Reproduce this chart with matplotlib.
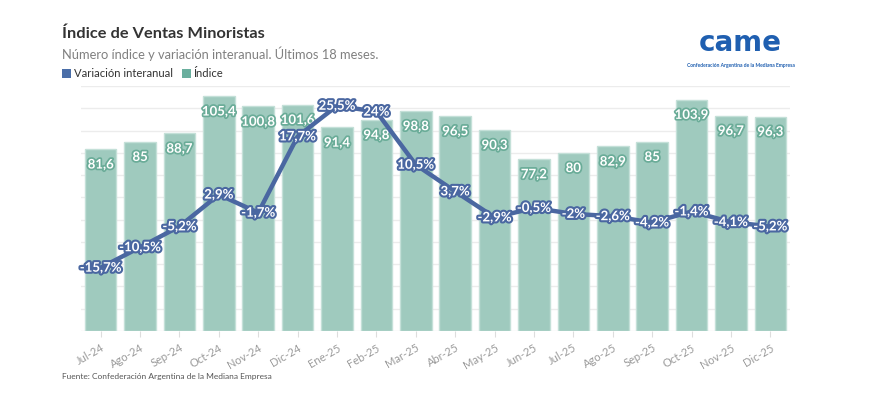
import matplotlib
matplotlib.use("Agg")
import matplotlib.pyplot as plt
import matplotlib.patheffects as pe
import numpy as np

months = ["Jul-24", "Ago-24", "Sep-24", "Oct-24", "Nov-24", "Dic-24", "Ene-25", "Feb-25",
          "Mar-25", "Abr-25", "May-25", "Jun-25", "Jul-25", "Ago-25", "Sep-25", "Oct-25",
          "Nov-25", "Dic-25"]
indice = [81.6, 85, 88.7, 105.4, 100.8, 101.6, 91.4, 94.8, 98.8, 96.5, 90.3, 77.2, 80,
          82.9, 85, 103.9, 96.7, 96.3]
variacion = [-15.7, -10.5, -5.2, 2.9, -1.7, 17.7, 25.5, 24, 10.5, 3.7, -2.9, -0.5, -2,
             -2.6, -4.2, -1.4, -4.1, -5.2]

def fmt(v):
    return ("%g" % v).replace(".", ",")

plt.rcParams['font.family'] = ['Lato', 'DejaVu Sans']

W, H = 878, 396
fig = plt.figure(figsize=(W / 100, H / 100), dpi=100)
fig.patch.set_facecolor("white")

ax_l, ax_r, ax_b, ax_t = 81, 790, 331, 86
ax = fig.add_axes([ax_l / W, 1 - ax_b / H, (ax_r - ax_l) / W, (ax_b - ax_t) / H])

bar_col = "#9fcabe"
bar_edge = "#c4e0d8"
line_col = "#4a67a1"
lab_teal = "#6aac98"

x = np.arange(len(months))
ax.bar(x, indice, width=0.8, color=bar_col, edgecolor=bar_edge, linewidth=1, zorder=2)
ax.set_xlim(-0.5, len(months) - 0.5)
ax.set_ylim(0, 110)
ax.set_yticks(np.arange(0, 111, 10))
ax.yaxis.grid(True, color="#ececec", linewidth=1, zorder=0)
ax.set_axisbelow(True)
ax.tick_params(axis="y", length=0, labelleft=False)
for s in ax.spines.values():
    s.set_visible(False)
ax.set_xticks(x)
ax.set_xticklabels(months, rotation=30, ha="right", rotation_mode="anchor",
                   fontsize=8, color="#9a9a9a")
ax.tick_params(axis="x", length=4, color="#dddddd", pad=4)

for xi, v in zip(x, indice):
    ax.annotate(fmt(v), (xi, v), xytext=(0, -11), textcoords="offset points",
                ha="center", va="center", fontsize=9.5, fontweight="bold", color="white",
                path_effects=[pe.withStroke(linewidth=2.5, foreground=lab_teal)], zorder=5)

ax2 = ax.twinx()
ppp = 3.93
zero = 206
ax2.set_ylim(-(ax_b - zero) / ppp, (zero - ax_t) / ppp)
ax2.set_xlim(-0.5, len(months) - 0.5)
ax2.axis("off")
ax2.plot(x, variacion, color=line_col, linewidth=3.2, solid_capstyle="round",
         solid_joinstyle="round", zorder=3)
for xi, v in zip(x, variacion):
    ax2.text(xi, v, fmt(v) + "%", ha="center", va="center", fontsize=9.5,
             fontweight="bold", color="white",
             path_effects=[pe.withStroke(linewidth=3, foreground=line_col)], zorder=6)

# Titles
fig.text(62 / W, 1 - 34 / H, "Índice de Ventas Minoristas", fontsize=11.8, fontweight="bold",
         color="#333333", ha="left", va="center")
fig.text(62 / W, 1 - 54 / H, "Número índice y variación interanual. Últimos 18 meses.",
         fontsize=9.3, color="#808080", ha="left", va="center")
# Legend
fig.patches.append(plt.Rectangle((62 / W, 1 - 78 / H), 9 / W, 9 / H, transform=fig.transFigure,
                                 facecolor="#4a6ea8", edgecolor="none"))
fig.text(74 / W, 1 - 73.5 / H, "Variación interanual", fontsize=8.1, color="#333333",
         ha="left", va="center")
fig.patches.append(plt.Rectangle((182 / W, 1 - 78 / H), 9 / W, 9 / H, transform=fig.transFigure,
                                 facecolor="#6aaf9e", edgecolor="none"))
fig.text(193 / W, 1 - 73.5 / H, "Índice", fontsize=8.1, color="#333333",
         ha="left", va="center")

# Logo
fig.text(740 / W, 1 - 43 / H, "came", fontsize=20, fontweight="bold", color="#1f5fb0",
         ha="center", va="center", family=["DejaVu Sans"])
fig.text(741 / W, 1 - 66 / H, "Confederación Argentina de la Mediana Empresa", fontsize=3.6,
         color="#1f5fb0", fontweight="bold", ha="center", va="center")

# Source
fig.text(62 / W, 1 - 377 / H, "Fuente: Confederación Argentina de la Mediana Empresa",
         fontsize=6, color="#555555", ha="left", va="center")

fig.savefig("out.png", dpi=100, facecolor="white")
